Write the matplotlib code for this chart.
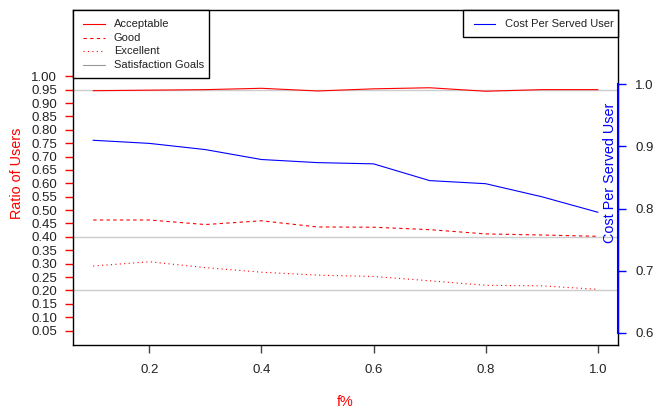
import matplotlib
matplotlib.use("Agg")
import matplotlib.pyplot as plt
from matplotlib.patches import Rectangle
from matplotlib.lines import Line2D

plt.rcParams['font.family'] = ['Liberation Sans', 'DejaVu Sans']

f_pct = [0.1, 0.2, 0.3, 0.4, 0.5, 0.6, 0.7, 0.8, 0.9, 1.0]
acceptable = [0.946, 0.948, 0.950, 0.955, 0.945, 0.953, 0.957, 0.944, 0.950, 0.950]
good = [0.463, 0.463, 0.446, 0.460, 0.437, 0.436, 0.427, 0.411, 0.407, 0.402]
excellent = [0.291, 0.307, 0.285, 0.268, 0.257, 0.252, 0.236, 0.219, 0.217, 0.204]
cost = [0.910, 0.905, 0.895, 0.879, 0.874, 0.872, 0.845, 0.840, 0.819, 0.794]
goals = [0.95, 0.40, 0.20]

left_ticks = [0.05, 0.10, 0.15, 0.20, 0.25, 0.30, 0.35, 0.40, 0.45, 0.50,
              0.55, 0.60, 0.65, 0.70, 0.75, 0.80, 0.85, 0.90, 0.95, 1.00]
right_ticks = [0.6, 0.7, 0.8, 0.9, 1.0]
x_ticks = [0.2, 0.4, 0.6, 0.8, 1.0]

W, H = 653, 411
fig = plt.figure(figsize=(W / 100, H / 100), dpi=100)
L, R, T, B = 73, 618, 10, 345
ax = fig.add_axes([L / W, (H - B) / H, (R - L) / W, (B - T) / H])

lw = 0.8
for g in goals:
    ax.axhline(g, color='#cccccc', lw=1.0, zorder=1)
ax.plot(f_pct, acceptable, color='red', lw=lw, zorder=3)
ax.plot(f_pct, good, color='red', lw=lw, ls=(0, (3.0, 3.0)), zorder=3)
ax.plot(f_pct, excellent, color='red', lw=lw, ls=(0, (1.0, 3.0)), zorder=3)

ax.set_xlim(0.064, 1.036)
ax.set_ylim(-0.004, 1.2475)
ax.set_xticks(x_ticks)
ax.set_xticklabels([f"{v:.1f}" for v in x_ticks])
ax.set_yticks(left_ticks)
ax.set_yticklabels([f"{v:.2f}" for v in left_ticks])
ax.tick_params(axis='y', colors='red', length=6, width=1.0, pad=5.5,
               labelsize=9.5, labelcolor='#222222')
ax.tick_params(axis='x', colors='#444444', length=6, width=1.0, pad=8,
               labelsize=9.5, labelcolor='#222222')
for s in ax.spines.values():
    s.set_color('black')
    s.set_linewidth(1.0)

ax.set_ylabel('Ratio of Users', color='red', fontsize=10.4, va='center')
ax.yaxis.set_label_coords((17 - L) / (R - L), 0.513)
ax.set_xlabel('f%', color='red', fontsize=10.4, va='center')
ax.xaxis.set_label_coords(0.5, (B - 402) / (B - T))

ax2 = ax.twinx()
ax2.plot(f_pct, cost, color='blue', lw=lw, zorder=3)
ax2.set_ylim(0.58, 1.12)
ax2.set_yticks(right_ticks)
ax2.set_yticklabels([f"{v:.1f}" for v in right_ticks])
ax2.tick_params(axis='y', colors='blue', length=6, width=1.0, pad=6.5,
                labelsize=9.5, labelcolor='#222222')
for k in ('left', 'top', 'bottom'):
    ax2.spines[k].set_visible(False)
ax2.spines['right'].set_color('blue')
ax2.spines['right'].set_linewidth(1.5)
ax2.spines['right'].set_bounds(0.6, 1.0)
ax2.set_ylabel('Cost Per Served User', color='blue', fontsize=10.4, va='center')
ax2.yaxis.set_label_coords((610 - L) / (R - L), 0.513)

# legends (drawn in axes-fraction coordinates)
def px(xp):
    return (xp - L) / (R - L)

def py(yp):
    return (B - yp) / (B - T)

leg_fs = 8
ax2.add_patch(Rectangle((0, py(78)), px(209), 1 - py(78), transform=ax2.transAxes,
                        facecolor='white', edgecolor='black', lw=1.0, zorder=5, clip_on=False))
entries = [('Acceptable', 'red', '-'), ('Good', 'red', (0, (3.0, 3.0))),
           ('Excellent', 'red', (0, (1.0, 3.0))), ('Satisfaction Goals', '#999999', '-')]
for (lab, col, ls), yp in zip(entries, [24, 38, 51, 65]):
    ax2.add_line(Line2D([px(83), px(105)], [py(yp), py(yp)], transform=ax2.transAxes,
                        color=col, ls=ls, lw=lw, zorder=6, clip_on=False))
    ax2.text(px(114), py(yp), lab, transform=ax2.transAxes, fontsize=leg_fs,
             va='center', ha='left', color='#222222', zorder=6)

ax2.add_patch(Rectangle((px(463), py(37)), 1 - px(463), 1 - py(37), transform=ax2.transAxes,
                        facecolor='white', edgecolor='black', lw=1.0, zorder=5, clip_on=False))
ax2.add_line(Line2D([px(474), px(495)], [py(24), py(24)], transform=ax2.transAxes,
                    color='blue', lw=lw, zorder=6, clip_on=False))
ax2.text(px(505), py(24), 'Cost Per Served User', transform=ax2.transAxes, fontsize=leg_fs,
         va='center', ha='left', color='#222222', zorder=6)

fig.savefig('out.png', dpi=100)
